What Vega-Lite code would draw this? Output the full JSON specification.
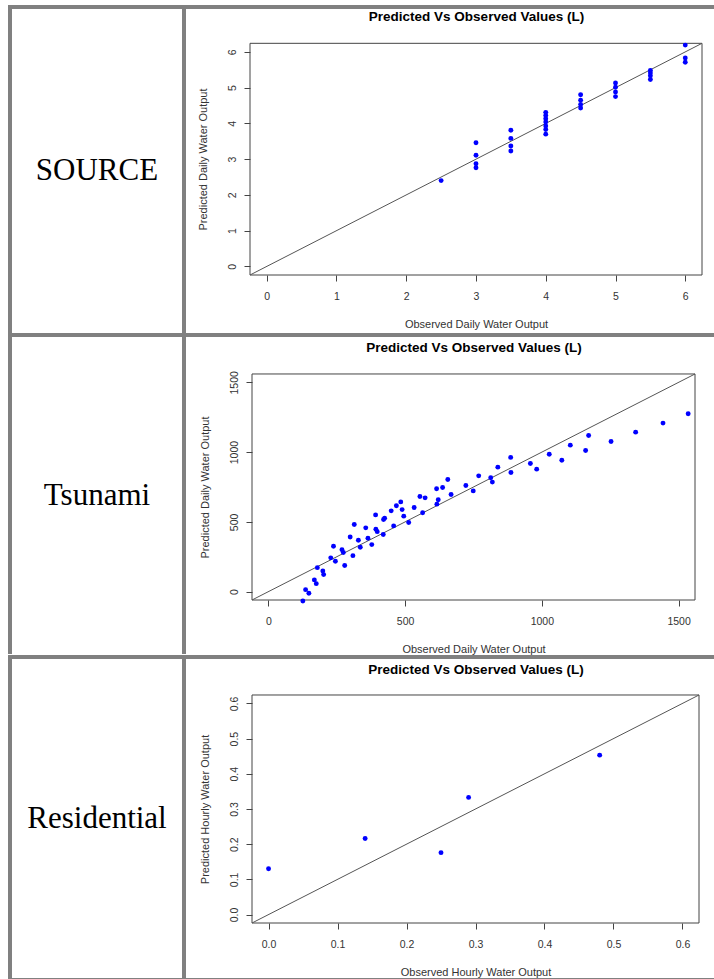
{
  "$schema": "https://vega.github.io/schema/vega-lite/v6.json",
  "background": "white",
  "padding": {"left": 8, "top": 5, "right": 0, "bottom": 0},
  "autosize": {"type": "pad"},
  "config": {
    "view": {"stroke": null},
    "font": "Liberation Sans",
    "axis": {"grid": false},
    "concat": {"spacing": 0}
  },
  "datasets": {
    "source": [
      {"obs": 2.5, "pred": 2.4},
      {"obs": 3, "pred": 3.46}, {"obs": 3, "pred": 3.11}, {"obs": 3, "pred": 2.87}, {"obs": 3, "pred": 2.76},
      {"obs": 3.5, "pred": 3.81}, {"obs": 3.5, "pred": 3.58}, {"obs": 3.5, "pred": 3.37}, {"obs": 3.5, "pred": 3.23},
      {"obs": 4, "pred": 4.31}, {"obs": 4, "pred": 4.22}, {"obs": 4, "pred": 4.13}, {"obs": 4, "pred": 4.04}, {"obs": 4, "pred": 3.93}, {"obs": 4, "pred": 3.83}, {"obs": 4, "pred": 3.70},
      {"obs": 4.5, "pred": 4.80}, {"obs": 4.5, "pred": 4.65}, {"obs": 4.5, "pred": 4.53}, {"obs": 4.5, "pred": 4.43},
      {"obs": 5, "pred": 5.13}, {"obs": 5, "pred": 5.01}, {"obs": 5, "pred": 4.88}, {"obs": 5, "pred": 4.75},
      {"obs": 5.5, "pred": 5.48}, {"obs": 5.5, "pred": 5.41}, {"obs": 5.5, "pred": 5.33}, {"obs": 5.5, "pred": 5.23},
      {"obs": 6, "pred": 6.19}, {"obs": 6, "pred": 5.83}, {"obs": 6, "pred": 5.71}
    ],
    "source_line": [{"obs": -0.24, "pred": -0.24}, {"obs": 6.24, "pred": 6.24}],
    "tsunami": [
      {"obs": 126, "pred": -67}, {"obs": 136, "pred": 14}, {"obs": 148, "pred": -12}, {"obs": 168, "pred": 84},
      {"obs": 175, "pred": 57}, {"obs": 179, "pred": 172}, {"obs": 199, "pred": 148}, {"obs": 202, "pred": 122},
      {"obs": 228, "pred": 242}, {"obs": 238, "pred": 325}, {"obs": 245, "pred": 218}, {"obs": 269, "pred": 301},
      {"obs": 274, "pred": 280}, {"obs": 279, "pred": 187}, {"obs": 299, "pred": 392}, {"obs": 309, "pred": 258},
      {"obs": 314, "pred": 481}, {"obs": 329, "pred": 368}, {"obs": 336, "pred": 318}, {"obs": 356, "pred": 457},
      {"obs": 364, "pred": 383}, {"obs": 378, "pred": 337}, {"obs": 392, "pred": 550}, {"obs": 393, "pred": 447},
      {"obs": 398, "pred": 430}, {"obs": 420, "pred": 409}, {"obs": 421, "pred": 517}, {"obs": 425, "pred": 526},
      {"obs": 449, "pred": 579}, {"obs": 458, "pred": 471}, {"obs": 468, "pred": 615}, {"obs": 484, "pred": 643},
      {"obs": 489, "pred": 588}, {"obs": 495, "pred": 541}, {"obs": 513, "pred": 495}, {"obs": 533, "pred": 603},
      {"obs": 554, "pred": 682}, {"obs": 564, "pred": 565}, {"obs": 573, "pred": 672}, {"obs": 615, "pred": 737},
      {"obs": 616, "pred": 627}, {"obs": 621, "pred": 658}, {"obs": 637, "pred": 746}, {"obs": 656, "pred": 804},
      {"obs": 668, "pred": 696}, {"obs": 722, "pred": 761}, {"obs": 749, "pred": 722}, {"obs": 769, "pred": 830},
      {"obs": 813, "pred": 816}, {"obs": 819, "pred": 785}, {"obs": 839, "pred": 892}, {"obs": 886, "pred": 962},
      {"obs": 887, "pred": 854}, {"obs": 958, "pred": 918}, {"obs": 981, "pred": 878}, {"obs": 1027, "pred": 985},
      {"obs": 1073, "pred": 942}, {"obs": 1104, "pred": 1050}, {"obs": 1160, "pred": 1012}, {"obs": 1171, "pred": 1119},
      {"obs": 1253, "pred": 1076}, {"obs": 1343, "pred": 1143}, {"obs": 1443, "pred": 1208}, {"obs": 1535, "pred": 1275}
    ],
    "tsunami_line": [{"obs": -60, "pred": -60}, {"obs": 1560, "pred": 1560}],
    "residential": [
      {"obs": 0.0, "pred": 0.130}, {"obs": 0.14, "pred": 0.216}, {"obs": 0.25, "pred": 0.176},
      {"obs": 0.29, "pred": 0.333}, {"obs": 0.48, "pred": 0.453}
    ],
    "residential_line": [{"obs": -0.024, "pred": -0.024}, {"obs": 0.624, "pred": 0.624}],
    "labels": [{"row": 1, "label": "SOURCE"}, {"row": 2, "label": "Tsunami"}, {"row": 3, "label": "Residential"}]
  },
  "vconcat": [
    {"width": 706, "height": 4, "view": {"fill": "#808080", "stroke": null}, "data": {"values": []}, "mark": "rule", "encoding": {}},
    {
      "hconcat": [
        {"width": 4, "height": 324, "view": {"fill": "#808080", "stroke": null}, "data": {"values": []}, "mark": "rule", "encoding": {}},
        {"width": 170, "height": 324, "data": {"name": "labels"}, "transform": [{"filter": "datum.row == 1"}],
         "mark": {"type": "text", "font": "Liberation Serif", "fontSize": 31, "color": "#000", "align": "center", "baseline": "middle"},
         "encoding": {"text": {"field": "label", "type": "nominal"}}},
        {"width": 4, "height": 324, "view": {"fill": "#808080", "stroke": null}, "data": {"values": []}, "mark": "rule", "encoding": {}},
        {"width": 11, "height": 1, "data": {"values": []}, "mark": "rule", "encoding": {}},
        {
          "width": 452, "height": 266,
          "resolve": {"axis": {"x": "independent"}},
          "layer": [
            {"data": {"values": [{}]}, "mark": {"type": "rect", "fill": null, "stroke": "#444", "strokeWidth": 1},
             "encoding": {
               "x": {"datum": -0.24, "type": "quantitative", "scale": {"domain": [-0.24, 6.24], "nice": false, "zero": false},
                     "axis": {"values": [0, 1, 2, 3, 4, 5, 6], "format": "d", "domain": false, "tickSize": 6, "tickColor": "#444", "labelFontSize": 10.5, "labelColor": "#333", "labelPadding": 10, "title": "Observed Daily Water Output", "titleFontSize": 11, "titleFontWeight": "normal", "titleColor": "#333", "titlePadding": 17}},
               "x2": {"datum": 6.24},
               "y": {"datum": -0.24, "type": "quantitative", "scale": {"domain": [-0.24, 7.2], "nice": false, "zero": false},
                     "axis": {"values": [0, 1, 2, 3, 4, 5, 6], "format": "d", "domain": false, "tickSize": 6, "tickColor": "#444", "labelFontSize": 10.5, "labelColor": "#333", "labelAngle": -90, "labelAlign": "center", "labelBaseline": "bottom", "labelPadding": 7, "title": "Predicted Daily Water Output", "titleFontSize": 11, "titleFontWeight": "normal", "titleColor": "#333", "titlePadding": 19, "titleY": 150}},
               "y2": {"datum": 6.24}
             }},
            {"data": {"name": "source_line"}, "mark": {"type": "line", "color": "#555", "strokeWidth": 1},
             "encoding": {"x": {"field": "obs", "type": "quantitative", "axis": null}, "y": {"field": "pred", "type": "quantitative"}}},
            {"data": {"name": "source"}, "mark": {"type": "circle", "color": "#0000ff", "size": 24, "opacity": 1},
             "encoding": {
               "x": {"field": "obs", "type": "quantitative",
                     "axis": {"orient": "top", "domain": false, "ticks": false, "labels": false, "title": "Predicted Vs Observed Values (L)", "titleFont": "Liberation Sans", "titleFontSize": 13.5, "titleFontWeight": "bold", "titleColor": "#000", "titleBaseline": "alphabetic", "titleAnchor": "middle", "titleY": 11.7}},
               "y": {"field": "pred", "type": "quantitative"}}}
          ]
        }
      ]
    },
    {"width": 706, "height": 4, "view": {"fill": "#808080", "stroke": null}, "data": {"values": []}, "mark": "rule", "encoding": {}},
    {
      "hconcat": [
        {"width": 4, "height": 317, "view": {"fill": "#808080", "stroke": null}, "data": {"values": []}, "mark": "rule", "encoding": {}},
        {"width": 170, "height": 317, "data": {"name": "labels"}, "transform": [{"filter": "datum.row == 2"}],
         "mark": {"type": "text", "font": "Liberation Serif", "fontSize": 31, "color": "#000", "align": "center", "baseline": "middle"},
         "encoding": {"text": {"field": "label", "type": "nominal"}}},
        {"width": 4, "height": 317, "view": {"fill": "#808080", "stroke": null}, "data": {"values": []}, "mark": "rule", "encoding": {}},
        {"width": 12, "height": 1, "data": {"values": []}, "mark": "rule", "encoding": {}},
        {
          "width": 443, "height": 263,
          "resolve": {"axis": {"x": "independent"}},
          "layer": [
            {"data": {"values": [{}]}, "mark": {"type": "rect", "fill": null, "stroke": "#444", "strokeWidth": 1},
             "encoding": {
               "x": {"datum": -60, "type": "quantitative", "scale": {"domain": [-60, 1560], "nice": false, "zero": false},
                     "axis": {"values": [0, 500, 1000, 1500], "format": "d", "domain": false, "tickSize": 6, "tickColor": "#444", "labelFontSize": 10.5, "labelColor": "#333", "labelPadding": 10, "title": "Observed Daily Water Output", "titleFontSize": 11, "titleFontWeight": "normal", "titleColor": "#333", "titlePadding": 17}},
               "x2": {"datum": 1560},
               "y": {"datum": -60, "type": "quantitative", "scale": {"domain": [-60, 1825], "nice": false, "zero": false},
                     "axis": {"values": [0, 500, 1000, 1500], "format": "d", "domain": false, "tickSize": 6, "tickColor": "#444", "labelFontSize": 10.5, "labelColor": "#333", "labelAngle": -90, "labelAlign": "center", "labelBaseline": "bottom", "labelPadding": 7, "title": "Predicted Daily Water Output", "titleFontSize": 11, "titleFontWeight": "normal", "titleColor": "#333", "titlePadding": 19, "titleY": 150}},
               "y2": {"datum": 1560}
             }},
            {"data": {"name": "tsunami_line"}, "mark": {"type": "line", "color": "#555", "strokeWidth": 1},
             "encoding": {"x": {"field": "obs", "type": "quantitative", "axis": null}, "y": {"field": "pred", "type": "quantitative"}}},
            {"data": {"name": "tsunami"}, "mark": {"type": "circle", "color": "#0000ff", "size": 24, "opacity": 1},
             "encoding": {
               "x": {"field": "obs", "type": "quantitative",
                     "axis": {"orient": "top", "domain": false, "ticks": false, "labels": false, "title": "Predicted Vs Observed Values (L)", "titleFont": "Liberation Sans", "titleFontSize": 13.5, "titleFontWeight": "bold", "titleColor": "#000", "titleBaseline": "alphabetic", "titleAnchor": "middle", "titleY": 14.5}},
               "y": {"field": "pred", "type": "quantitative"}}}
          ]
        }
      ]
    },
    {"width": 706, "height": 4, "view": {"fill": "#808080", "stroke": null}, "data": {"values": []}, "mark": "rule", "encoding": {}},
    {
      "hconcat": [
        {"width": 4, "height": 319, "view": {"fill": "#808080", "stroke": null}, "data": {"values": []}, "mark": "rule", "encoding": {}},
        {"width": 170, "height": 319, "data": {"name": "labels"}, "transform": [{"filter": "datum.row == 3"}],
         "mark": {"type": "text", "font": "Liberation Serif", "fontSize": 31, "color": "#000", "align": "center", "baseline": "middle"},
         "encoding": {"text": {"field": "label", "type": "nominal"}}},
        {"width": 4, "height": 319, "view": {"fill": "#808080", "stroke": null}, "data": {"values": []}, "mark": "rule", "encoding": {}},
        {"width": 12, "height": 1, "data": {"values": []}, "mark": "rule", "encoding": {}},
        {
          "width": 447, "height": 264,
          "resolve": {"axis": {"x": "independent"}},
          "layer": [
            {"data": {"values": [{}]}, "mark": {"type": "rect", "fill": null, "stroke": "#444", "strokeWidth": 1},
             "encoding": {
               "x": {"datum": -0.024, "type": "quantitative", "scale": {"domain": [-0.024, 0.624], "nice": false, "zero": false},
                     "axis": {"values": [0, 0.1, 0.2, 0.3, 0.4, 0.5, 0.6], "format": ".1f", "domain": false, "tickSize": 6, "tickColor": "#444", "labelFontSize": 10.5, "labelColor": "#333", "labelPadding": 10, "title": "Observed Hourly Water Output", "titleFontSize": 11, "titleFontWeight": "normal", "titleColor": "#333", "titlePadding": 17}},
               "x2": {"datum": 0.624},
               "y": {"datum": -0.024, "type": "quantitative", "scale": {"domain": [-0.024, 0.7263], "nice": false, "zero": false},
                     "axis": {"values": [0, 0.1, 0.2, 0.3, 0.4, 0.5, 0.6], "format": ".1f", "domain": false, "tickSize": 6, "tickColor": "#444", "labelFontSize": 10.5, "labelColor": "#333", "labelAngle": -90, "labelAlign": "center", "labelBaseline": "bottom", "labelPadding": 7, "title": "Predicted Hourly Water Output", "titleFontSize": 11, "titleFontWeight": "normal", "titleColor": "#333", "titlePadding": 19, "titleY": 150}},
               "y2": {"datum": 0.624}
             }},
            {"data": {"name": "residential_line"}, "mark": {"type": "line", "color": "#555", "strokeWidth": 1},
             "encoding": {"x": {"field": "obs", "type": "quantitative", "axis": null}, "y": {"field": "pred", "type": "quantitative"}}},
            {"data": {"name": "residential"}, "mark": {"type": "circle", "color": "#0000ff", "size": 24, "opacity": 1},
             "encoding": {
               "x": {"field": "obs", "type": "quantitative",
                     "axis": {"orient": "top", "domain": false, "ticks": false, "labels": false, "title": "Predicted Vs Observed Values (L)", "titleFont": "Liberation Sans", "titleFontSize": 13.5, "titleFontWeight": "bold", "titleColor": "#000", "titleBaseline": "alphabetic", "titleAnchor": "middle", "titleY": 14.5}},
               "y": {"field": "pred", "type": "quantitative"}}}
          ]
        }
      ]
    },
    {"width": 706, "height": 2, "view": {"fill": "#808080", "stroke": null}, "data": {"values": []}, "mark": "rule", "encoding": {}}
  ]
}
